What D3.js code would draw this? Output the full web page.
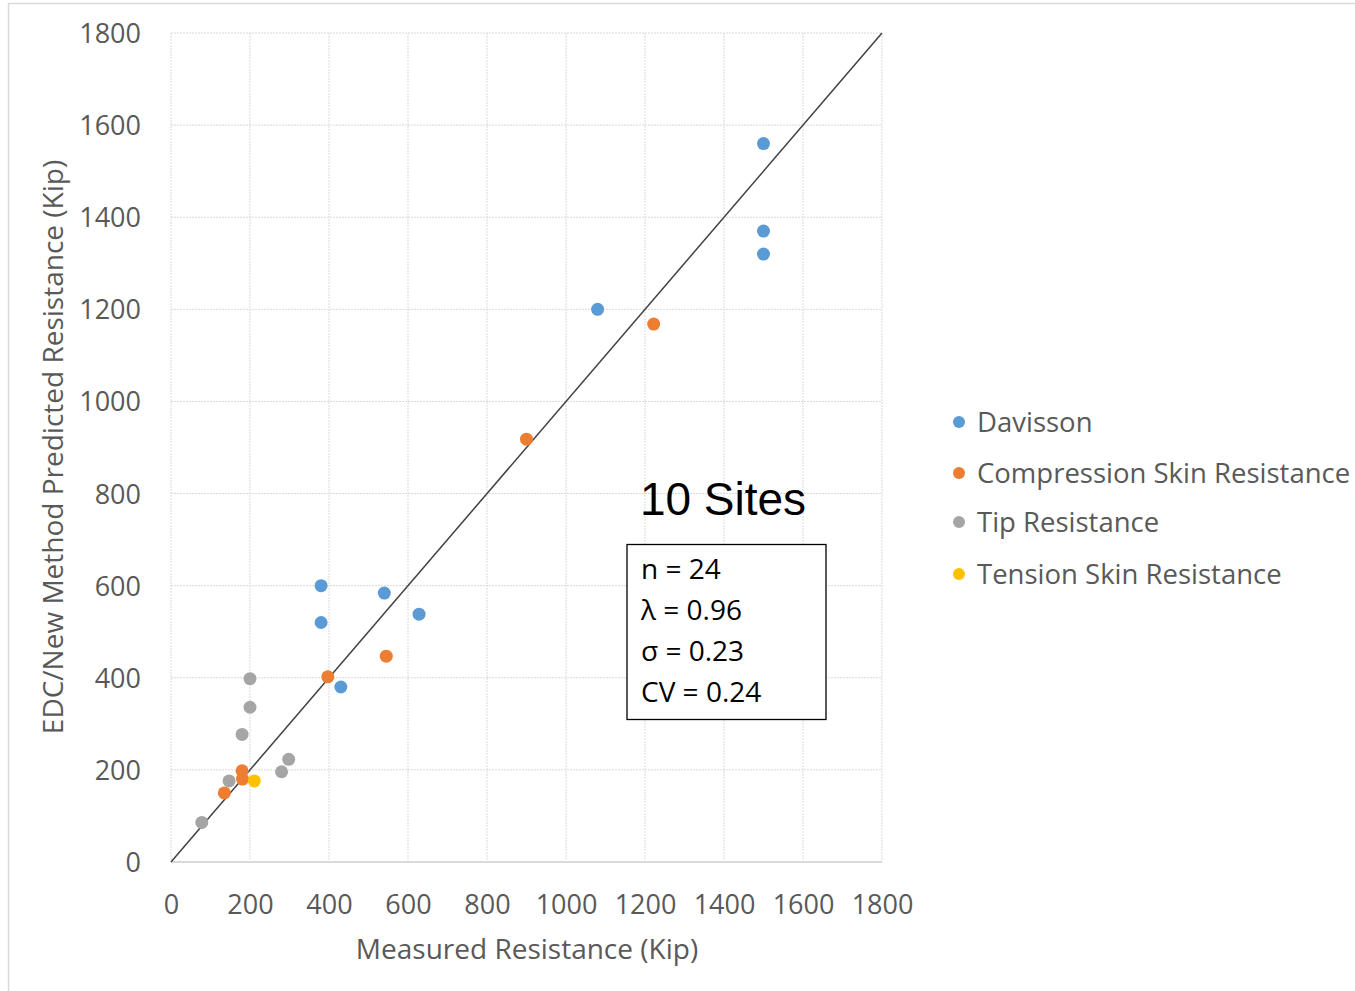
<!DOCTYPE html>
<html>
<head>
<meta charset="utf-8">
<script src="https://d3js.org/d3.v7.min.js"></script>
<style>
  body { margin: 0; background: #fff; }
  svg { display: block; }
  text { font-family: "Open Sans", sans-serif; fill: #595959; }
</style>
</head>
<body>
<div id="chart"></div>
<script>
// series (measured, predicted) in kip
const davisson = [
  [1500, 1560], [1500, 1370], [1500, 1320], [1080, 1200],
  [380, 600], [380, 520], [540, 584], [628, 538], [430, 380]
];
const compressionSkin = [
  [1222, 1168], [900, 918], [545, 447], [397, 402],
  [180, 198], [181, 180], [135, 150]
];
const tipResistance = [
  [200, 398], [200, 336], [180, 277], [298, 223],
  [280, 196], [147, 176], [78, 86]
];
const tensionSkin = [[211, 176]];

const seriesNames = ['Davisson', 'Compression Skin Resistance', 'Tip Resistance', 'Tension Skin Resistance'];
const seriesColors = ['#5B9BD5', '#ED7D31', '#A5A5A5', '#FFC000'];
const seriesData = [davisson, compressionSkin, tipResistance, tensionSkin];

const tickValues = [0, 200, 400, 600, 800, 1000, 1200, 1400, 1600, 1800];
const statLines = ['n = 24', 'λ = 0.96', 'σ = 0.23', 'CV = 0.24'];

const width = 1355, height = 991;
const margin = { top: 33, right: 473, bottom: 129, left: 171 };

const svg = d3.select('#chart')
  .append('svg')
  .attr('width', width)
  .attr('height', height);

// outer chart border
svg.append('rect')
  .attr('x', 8.5).attr('y', 3.5)
  .attr('width', width + 10).attr('height', height + 10)
  .style('fill', 'none')
  .style('stroke', '#d9d9d9')
  .style('stroke-width', 1.5);

const x = d3.scaleLinear().domain([0, 1800]).range([margin.left, width - margin.right]);
const y = d3.scaleLinear().domain([0, 1800]).range([height - margin.bottom, margin.top]);

// gridlines
const grid = svg.append('g').attr('class', 'grid');
grid.selectAll('.vgrid')
  .data(tickValues)
  .enter().append('line')
  .attr('x1', d => x(d)).attr('x2', d => x(d))
  .attr('y1', y(1800)).attr('y2', y(0))
  .style('stroke', '#d9d9d9')
  .style('stroke-width', 1)
  .style('stroke-dasharray', '2,1');
grid.selectAll('.hgrid')
  .data(tickValues.slice(1))
  .enter().append('line')
  .attr('x1', x(0)).attr('x2', x(1800))
  .attr('y1', d => y(d)).attr('y2', d => y(d))
  .style('stroke', '#d9d9d9')
  .style('stroke-width', 1)
  .style('stroke-dasharray', '2,1');

// bottom axis line
svg.append('line')
  .attr('x1', x(0)).attr('x2', x(1800))
  .attr('y1', y(0)).attr('y2', y(0))
  .style('stroke', '#d9d9d9')
  .style('stroke-width', 2);

// axes (labels only)
const fmt = d3.format('d');
const xAxis = d3.axisBottom(x).tickValues(tickValues).tickFormat(fmt).tickSize(0).tickPadding(33);
const yAxis = d3.axisLeft(y).tickValues(tickValues).tickFormat(fmt).tickSize(0).tickPadding(30);

const gx = svg.append('g')
  .attr('transform', `translate(0,${y(0)})`)
  .call(xAxis);
const gy = svg.append('g')
  .attr('transform', `translate(${x(0)},0)`)
  .call(yAxis);
[gx, gy].forEach(g => {
  g.select('.domain').remove();
  g.selectAll('text')
    .style('font-family', '"Open Sans", sans-serif')
    .style('font-size', '27px')
    .style('fill', '#595959');
});
gy.selectAll('text').attr('dy', '0.35em');

// identity line
svg.append('line')
  .attr('x1', x(0)).attr('y1', y(0))
  .attr('x2', x(1800)).attr('y2', y(1800))
  .style('stroke', '#404040')
  .style('stroke-width', 1.5);

// points
seriesData.forEach((data, i) => {
  svg.append('g').selectAll('circle')
    .data(data)
    .enter().append('circle')
    .attr('cx', d => x(d[0]))
    .attr('cy', d => y(d[1]))
    .attr('r', 6.5)
    .style('fill', seriesColors[i]);
});

// axis titles
svg.append('text')
  .attr('x', 527)
  .attr('y', 959)
  .attr('text-anchor', 'middle')
  .style('font-size', '28px')
  .text('Measured Resistance (Kip)');

svg.append('text')
  .attr('transform', 'rotate(-90)')
  .attr('x', -447)
  .attr('y', 63)
  .attr('text-anchor', 'middle')
  .style('font-size', '28px')
  .text('EDC/New Method Predicted Resistance (Kip)');

// annotation
svg.append('text')
  .attr('x', 723)
  .attr('y', 515)
  .attr('text-anchor', 'middle')
  .style('font-family', '"Liberation Sans", Arial, sans-serif')
  .style('font-size', '46px')
  .style('fill', '#000')
  .text('10 Sites');

svg.append('rect')
  .attr('x', 627).attr('y', 544.5)
  .attr('width', 199).attr('height', 175)
  .style('fill', '#fff')
  .style('stroke', '#000')
  .style('stroke-width', 1.3);

svg.selectAll('.stat')
  .data(statLines)
  .enter().append('text')
  .attr('class', 'stat')
  .attr('x', 641)
  .attr('y', (d, i) => 579 + i * 41)
  .style('font-size', '28px')
  .style('fill', '#000')
  .text(d => d);

// legend
const legend = svg.append('g').attr('transform', 'translate(959,422)');
seriesNames.forEach((name, i) => {
  const row = legend.append('g').attr('transform', `translate(0,${[0, 51, 100, 152][i]})`);
  row.append('circle').attr('r', 6).style('fill', seriesColors[i]);
  row.append('text')
    .attr('x', 18)
    .attr('dy', '0.35em')
    .style('font-size', '27.5px')
    .text(name);
});
</script>
</body>
</html>
